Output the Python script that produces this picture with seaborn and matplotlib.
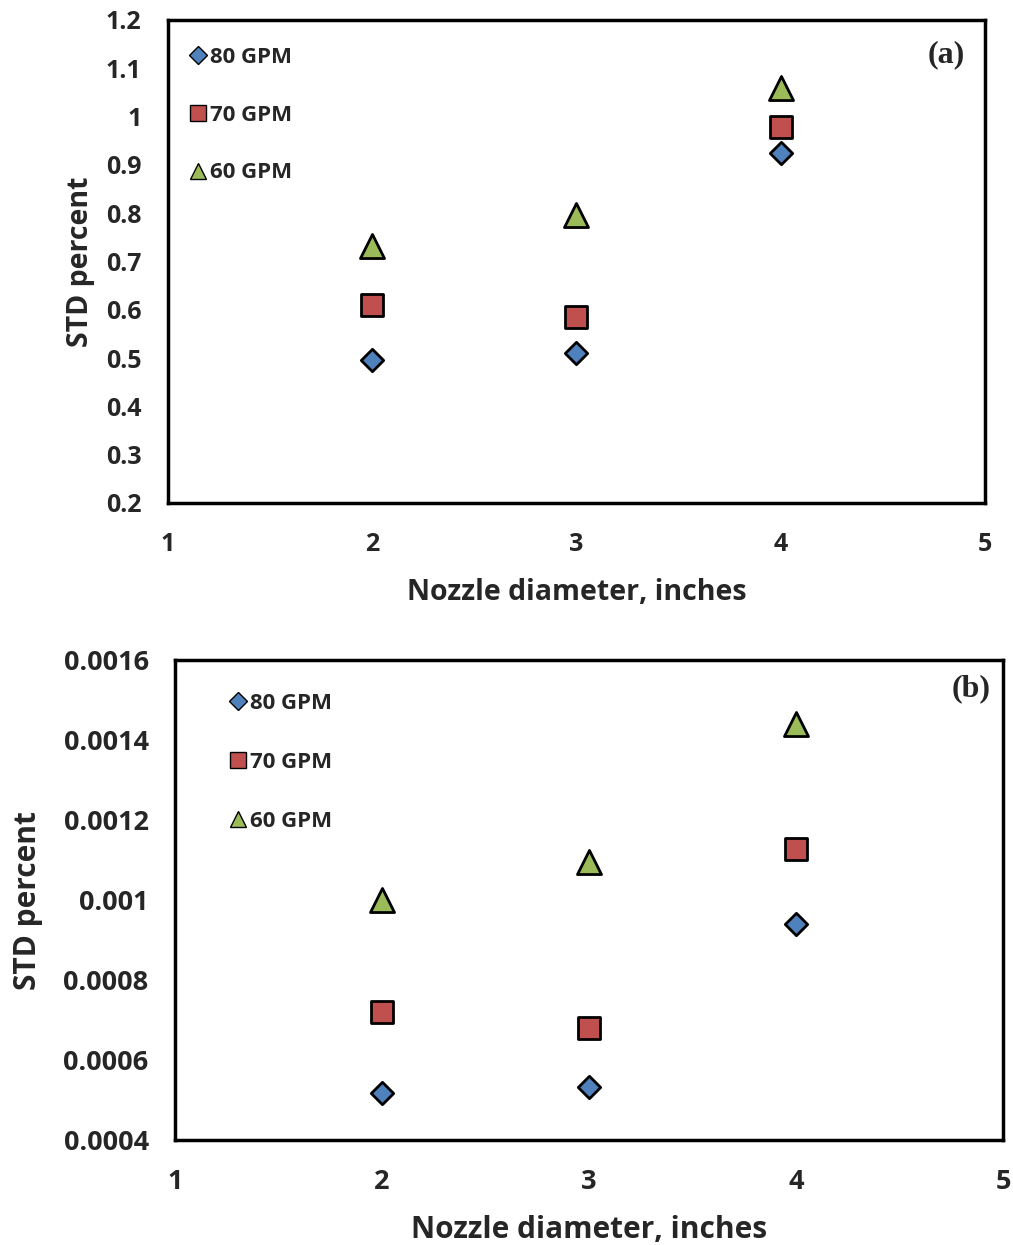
import matplotlib
matplotlib.use("Agg")
import matplotlib.pyplot as plt
import seaborn as sns
import pandas as pd
from matplotlib.lines import Line2D

nozzle = [2, 3, 4]
series = ["80 GPM", "70 GPM", "60 GPM"]
a_80 = [0.497, 0.510, 0.925]
a_70 = [0.610, 0.586, 0.978]
a_60 = [0.733, 0.797, 1.059]
b_80 = [0.000518, 0.000532, 0.000940]
b_70 = [0.000720, 0.000680, 0.001128]
b_60 = [0.001000, 0.001095, 0.001440]
a_yticks = [0.2, 0.3, 0.4, 0.5, 0.6, 0.7, 0.8, 0.9, 1.0, 1.1, 1.2]
a_ylabels = ["0.2", "0.3", "0.4", "0.5", "0.6", "0.7", "0.8", "0.9", "1", "1.1", "1.2"]
b_yticks = [0.0004, 0.0006, 0.0008, 0.0010, 0.0012, 0.0014, 0.0016]
b_ylabels = ["0.0004", "0.0006", "0.0008", "0.001", "0.0012", "0.0014", "0.0016"]
xticks = [1, 2, 3, 4, 5]

colors = {"80 GPM": "#4F81BD", "70 GPM": "#C0504D", "60 GPM": "#9BBB59"}
markers = {"80 GPM": "D", "70 GPM": "s", "60 GPM": "^"}
sizes = {"80 GPM": 130, "70 GPM": 250, "60 GPM": 300}

sns.set_style("white")
plt.rcParams["font.family"] = ["Open Sans", "DejaVu Sans"]

fig = plt.figure(figsize=(10.13, 12.45), dpi=100)
ax1 = fig.add_axes([0.1658, 0.596, 0.8066, 0.388])
ax2 = fig.add_axes([0.1728, 0.0843, 0.8174, 0.3855])


def make_df(v80, v70, v60):
    rows = []
    for name, vals in zip(series, [v80, v70, v60]):
        for x, y in zip(nozzle, vals):
            rows.append({"x": x, "y": y, "series": name})
    return pd.DataFrame(rows)


def draw(ax, df, yticks, ylabels, ylim, tag, legend_anchor, tag_pos, tsize, lsize, ylpad, xlpad, lspace):
    for name in series:
        sub = df[df["series"] == name]
        sns.scatterplot(data=sub, x="x", y="y", ax=ax, color=colors[name],
                        marker=markers[name], s=sizes[name], edgecolor="black",
                        linewidth=2, zorder=3, legend=False)
    ax.set_xlim(1, 5)
    ax.set_ylim(*ylim)
    ax.set_xticks(xticks)
    ax.set_xticklabels([str(t) for t in xticks])
    ax.set_yticks(yticks)
    ax.set_yticklabels(ylabels)
    ax.tick_params(axis="both", direction="out", length=4, width=1, color="#888888",
                   labelsize=tsize)
    ax.tick_params(axis="x", pad=17)
    ax.tick_params(axis="y", pad=15)
    for lab in ax.get_xticklabels() + ax.get_yticklabels():
        lab.set_fontweight("bold")
    for sp in ax.spines.values():
        sp.set_visible(True)
        sp.set_color("black")
        sp.set_linewidth(2.5)
    ax.set_xlabel("Nozzle diameter, inches", fontsize=lsize, fontweight="bold", labelpad=xlpad)
    ax.set_ylabel("STD percent", fontsize=lsize, fontweight="bold", labelpad=ylpad)
    handles = [Line2D([], [], linestyle="none", marker=markers[n], markerfacecolor=colors[n],
                      markeredgecolor="black", markeredgewidth=1,
                      markersize={"80 GPM": 9, "70 GPM": 12, "60 GPM": 12}[n]) for n in series]
    ax.legend(handles, series, loc="upper left", bbox_to_anchor=legend_anchor,
              frameon=False, labelspacing=lspace, handlelength=0.8, handletextpad=0.15,
              borderaxespad=0, prop={"size": 16, "weight": "bold"})
    ax.text(tag_pos[0], tag_pos[1], tag, transform=ax.transAxes, ha="right", va="center",
            fontsize=23, fontweight="bold", family=["Liberation Serif"])


draw(ax1, make_df(a_80, a_70, a_60), a_yticks, a_ylabels, (0.2, 1.2), "(a)",
     (0.015, 0.962), (0.975, 0.927), 18, 20.5, 8, 15, 1.65)
draw(ax2, make_df(b_80, b_70, b_60), b_yticks, b_ylabels, (0.0004, 0.0016), "(b)",
     (0.054, 0.95), (0.985, 0.94), 19.5, 21.5, 15, 14, 1.7)

fig.savefig("out.png", dpi=100)
